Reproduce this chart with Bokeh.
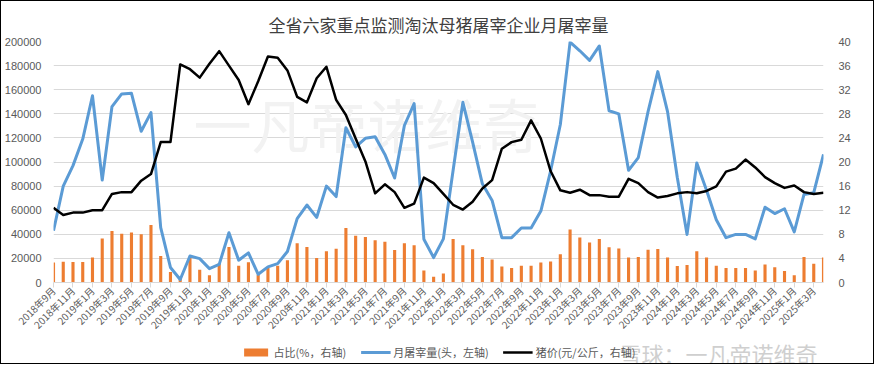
import math
from bokeh.plotting import figure
from bokeh.layouts import column
from bokeh.models import (Range1d, LinearAxis, FixedTicker, Legend, LegendItem,
                          Label, ColumnDataSource, NumeralTickFormatter)
from bokeh.embed import file_html
from bokeh.resources import INLINE

# ---- data ----
months = []
_y, _m = 2018, 9
for _ in range(80):
    months.append(f"{_y}年{_m}月")
    _m += 1
    if _m > 12:
        _m = 1
        _y += 1

slaughter = [43000, 80000, 97000, 119000, 155000, 85000, 146000, 156500, 157000, 125500,
             141000, 45500, 12500, 2500, 22000, 19800, 11500, 15000, 41300, 18500,
             24600, 6800, 13000, 15700, 25700, 53000, 64300, 54000, 80000, 71300,
             128400, 112500, 119700, 121000, 106300, 86700, 130300, 148400, 35900, 20700,
             36200, 93100, 149500, 116500, 81900, 68100, 37200, 37200, 45200, 45200,
             59300, 92500, 131100, 199500, 192300, 184300, 196300, 142500, 139900, 93100,
             103700, 141800, 175000, 141800, 87200, 39900, 99200, 76600, 52100, 37200,
             39900, 39900, 36200, 62500, 57200, 61200, 42000, 73100, 74500, 106300]

price = [12.4, 11.2, 11.6, 11.6, 12.0, 12.0, 14.7, 15.0, 15.0, 16.9,
         18.0, 23.3, 23.3, 36.2, 35.4, 34.0, 36.3, 38.4, 36.0, 33.6,
         29.6, 33.4, 37.5, 37.3, 35.2, 30.8, 29.9, 33.9, 35.8, 30.3,
         27.8, 23.9, 20.1, 14.8, 16.3, 15.0, 12.4, 13.1, 17.4, 16.5,
         14.7, 12.9, 12.1, 13.4, 15.6, 17.0, 22.2, 23.3, 23.7, 26.9,
         23.9, 18.5, 15.3, 14.9, 15.4, 14.5, 14.5, 14.25, 14.25, 17.2,
         16.5, 15.0, 14.1, 14.35, 14.8, 15.0, 14.8, 15.2, 15.95, 18.4,
         18.9, 20.4, 19.1, 17.5, 16.5, 15.7, 16.1, 15.0, 14.7, 14.9]

ratio = [3.3, 3.45, 3.4, 3.4, 4.15, 7.3, 8.55, 8.1, 8.3, 8.0,
         9.55, 4.4, 1.75, 0.7, 4.15, 2.1, 1.2, 3.2, 5.9, 2.8,
         3.35, 1.3, 2.45, 2.8, 3.7, 6.5, 5.9, 4.05, 5.2, 5.6,
         9.05, 7.75, 7.55, 7.0, 6.75, 5.4, 6.5, 6.2, 2.0, 0.95,
         1.5, 7.2, 6.2, 5.5, 4.25, 3.8, 2.65, 2.4, 2.8, 2.8,
         3.3, 3.5, 4.7, 8.8, 7.45, 6.65, 7.2, 5.85, 5.65, 4.15,
         4.25, 5.45, 5.55, 4.15, 2.75, 2.9, 5.2, 4.15, 2.8, 2.4,
         2.4, 2.4, 2.0, 3.0, 2.55, 1.9, 1.2, 4.25, 3.1, 4.15]

left_ticks = list(range(0, 200001, 20000))
right_ticks = list(range(0, 41, 4))
legend_labels = ["占比(%，右轴)", "月屠宰量(头，左轴)", "猪价(元/公斤，右轴)"]

x = list(range(len(months)))
src = ColumnDataSource(dict(x=x, slaughter=slaughter, price=price, ratio=ratio))

FONT = "Noto Sans CJK SC"
TXT = "#595959"
ORANGE, BLUE, BLACK = "#ed7d31", "#5b9bd5", "#000000"

p = figure(width=872, height=340, output_backend="svg", toolbar_location=None,
           x_range=Range1d(0, len(months) - 1), y_range=Range1d(0, 200000),
           min_border_left=52, min_border_right=50, min_border_top=40, min_border_bottom=59)
p.outline_line_color = None
p.background_fill_color = "white"
p.border_fill_color = "white"

p.title.text = "全省六家重点监测淘汰母猪屠宰企业月屠宰量"
p.title.align = "center"
p.title.text_font = FONT
p.title.text_font_size = "17px"
p.title.text_font_style = "normal"
p.title.text_color = "#404040"

p.extra_y_ranges = {"right": Range1d(0, 40)}
raxis = LinearAxis(y_range_name="right", ticker=FixedTicker(ticks=right_ticks))
p.add_layout(raxis, "right")

p.xgrid.visible = False
p.ygrid.grid_line_color = "#d9d9d9"
p.ygrid.ticker = FixedTicker(ticks=left_ticks)

ly = p.yaxis[0]
ly.ticker = FixedTicker(ticks=left_ticks)
ly.formatter = NumeralTickFormatter(format="0")
for ax in (ly, raxis):
    ax.axis_line_color = None
    ax.major_tick_line_color = None
    ax.minor_tick_line_color = None
    ax.major_label_text_font = "Liberation Sans"
    ax.major_label_text_font_size = "11px"
    ax.major_label_text_color = TXT
ly.major_label_standoff = 6
raxis.major_label_standoff = 9

xa = p.xaxis[0]
xa.ticker = FixedTicker(ticks=list(range(0, len(months), 2)))
xa.major_label_overrides = {i: months[i] for i in range(0, len(months), 2)}
xa.axis_line_color = "#d9d9d9"
xa.major_tick_line_color = "#d9d9d9"
xa.major_tick_out = 5
xa.major_tick_in = 0
xa.minor_tick_line_color = None
xa.major_label_orientation = math.pi / 4
xa.major_label_text_font = FONT
xa.major_label_text_font_size = "10px"
xa.major_label_text_color = TXT
xa.major_label_standoff = 1

# watermark (big, faint), beneath the data
p.add_layout(Label(x=140, y=160, x_units="screen", y_units="screen", text="一凡帝诺维奇",
                   text_font=FONT, text_font_size="58px", text_color="#f2f2f2",
                   text_baseline="middle", level="underlay"))

p.vbar(x="x", top="ratio", width=0.32, source=src, y_range_name="right",
       fill_color=ORANGE, line_color=None)
p.line(x="x", y="slaughter", source=src, line_width=3, line_color=BLUE, line_join="round")
p.line(x="x", y="price", source=src, y_range_name="right", line_width=2.5,
       line_color=BLACK, line_join="round")

# ---- legend strip (proxy renderers sit outside the strip's visible range) ----
p2 = figure(width=872, height=22, output_backend="svg", toolbar_location=None,
            x_axis_type=None, y_axis_type=None, x_range=Range1d(0, 1), y_range=Range1d(0, 1),
            min_border=0)
p2.outline_line_color = None
p2.background_fill_color = "white"
p2.border_fill_color = "white"
proxy = ColumnDataSource(dict(x=[5, 6], y=[5, 6], x2=[5.5, 6.5], y2=[5.5, 6.5]))
r1 = p2.quad(left="x", right="x2", bottom="y", top="y2", source=proxy,
             fill_color=ORANGE, line_color=None)
r2 = p2.line(x="x", y="y", source=proxy, line_width=3, line_color=BLUE)
r3 = p2.line(x="x", y="y", source=proxy, line_width=2.5, line_color=BLACK)

p2.add_layout(Label(x=566, y=11, x_units="screen", y_units="screen", text="雪球：一凡帝诺维奇",
                    text_font=FONT, text_font_size="22px", text_color="#cfcfcf",
                    text_align="left", text_baseline="middle"))

legend = Legend(items=[LegendItem(label=legend_labels[0], renderers=[r1]),
                       LegendItem(label=legend_labels[1], renderers=[r2]),
                       LegendItem(label=legend_labels[2], renderers=[r3])],
                orientation="horizontal", location="center")
legend.border_line_color = None
legend.background_fill_alpha = 0
legend.label_text_font = FONT
legend.label_text_font_size = "11px"
legend.label_text_color = TXT
legend.glyph_width = 30
legend.glyph_height = 10
legend.spacing = 14
legend.label_standoff = 3
legend.padding = 0
legend.margin = 0
p2.add_layout(legend)

layout = column(p, p2, spacing=0, styles={"border": "1px solid #000000"})

open("out.html", "w").write(file_html(layout, INLINE))
